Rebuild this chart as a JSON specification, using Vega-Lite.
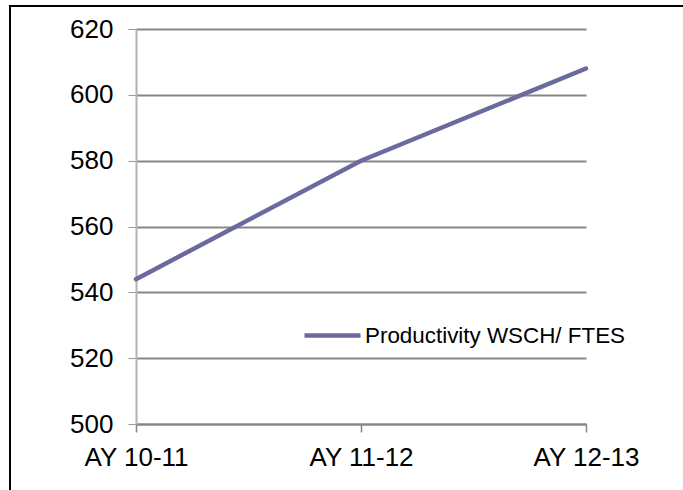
{
  "$schema": "https://vega.github.io/schema/vega-lite/v6.json",
  "width": 673,
  "height": 484,
  "autosize": {"type": "none"},
  "padding": {"left": 10, "top": 6, "right": 0, "bottom": 0},
  "background": "white",
  "config": {
    "view": {"stroke": "black", "strokeWidth": 2, "strokeDash": [673, 1157, 484]},
    "font": "Liberation Sans"
  },
  "data": {
    "values": [
      {"year": "AY 10-11", "value": 544, "series": "Productivity WSCH/ FTES"},
      {"year": "AY 11-12", "value": 580, "series": "Productivity WSCH/ FTES"},
      {"year": "AY 12-13", "value": 608, "series": "Productivity WSCH/ FTES"}
    ]
  },
  "mark": {"type": "line", "strokeWidth": 4.5, "strokeCap": "round"},
  "encoding": {
    "x": {
      "field": "year",
      "type": "ordinal",
      "sort": null,
      "scale": {"type": "point", "range": [126, 576], "padding": 0},
      "axis": {
        "title": null,
        "offset": -66,
        "grid": false,
        "domainColor": "#878787",
        "domainWidth": 2,
        "tickColor": "#878787",
        "tickSize": 8,
        "tickWidth": 1.5,
        "labelFontSize": 26,
        "labelAngle": 0,
        "labelPadding": 12,
        "labelColor": "black",
        "labelFont": "Liberation Sans"
      }
    },
    "y": {
      "field": "value",
      "type": "quantitative",
      "scale": {"domain": [500, 620], "range": [418, 23], "nice": false, "zero": false},
      "axis": {
        "title": null,
        "offset": -126,
        "values": [500, 520, 540, 560, 580, 600, 620],
        "grid": true,
        "gridColor": "#878787",
        "gridWidth": 2,
        "domainColor": "#b3b3b3",
        "domainWidth": 2,
        "tickColor": "#999999",
        "tickSize": 8,
        "tickWidth": 1,
        "labelFontSize": 26,
        "labelPadding": 15,
        "labelColor": "black",
        "labelFont": "Liberation Sans"
      }
    },
    "color": {
      "field": "series",
      "type": "nominal",
      "scale": {"range": ["#6A6A9F"]},
      "legend": {
        "orient": "none",
        "legendX": 292,
        "legendY": 299,
        "title": null,
        "symbolType": "stroke",
        "symbolSize": 3136,
        "symbolStrokeWidth": 4.5,
        "labelFontSize": 22.4,
        "labelColor": "black",
        "labelOffset": 2,
        "padding": 0,
        "labelFont": "Liberation Sans",
        "labelLimit": 400
      }
    }
  }
}
